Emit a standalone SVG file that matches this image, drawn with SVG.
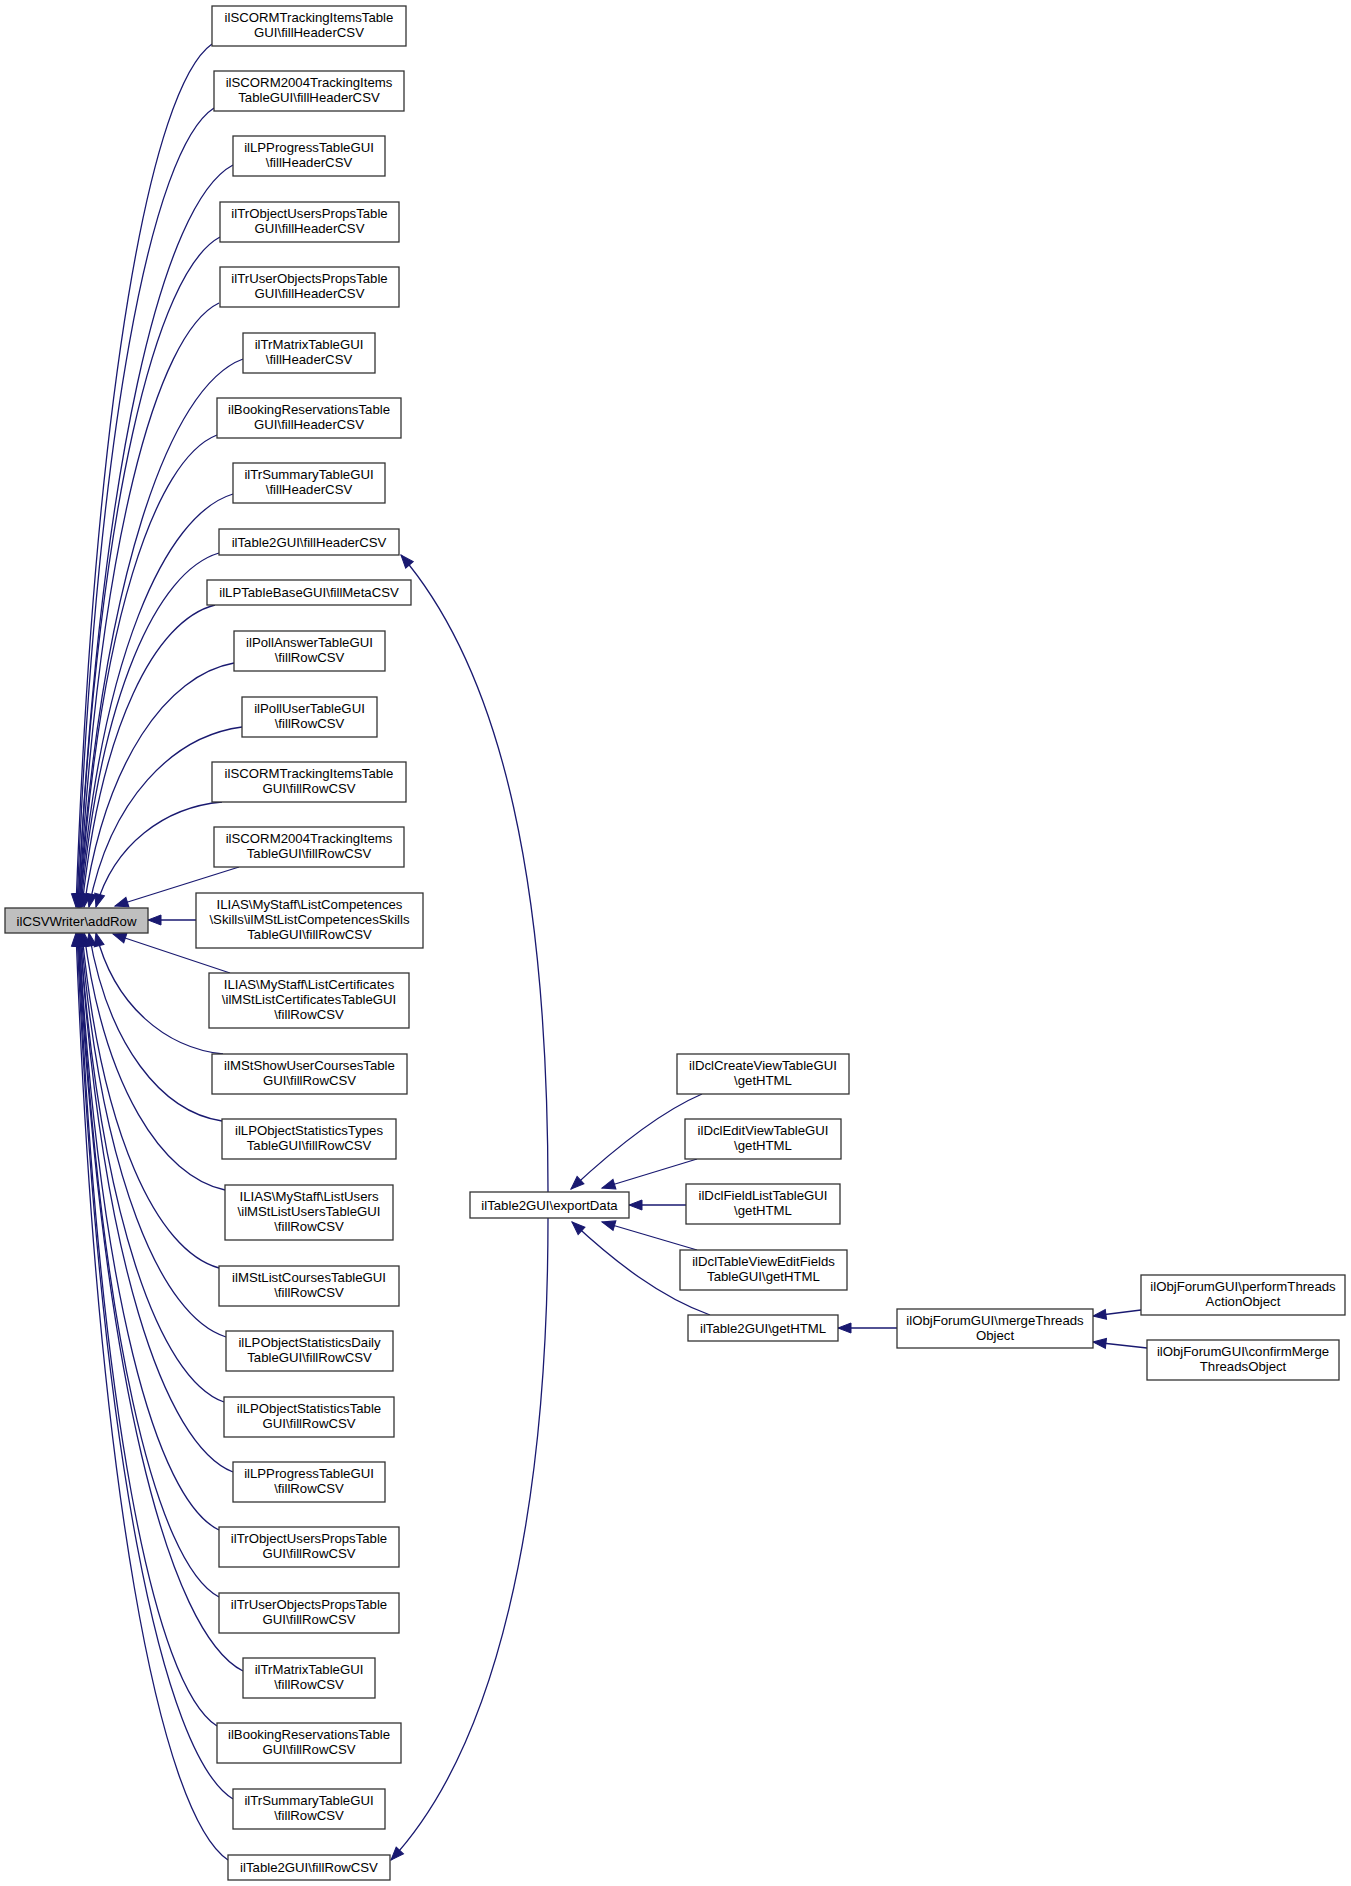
<svg xmlns="http://www.w3.org/2000/svg" width="1351" height="1886" viewBox="0 0 1351 1886">
<style>
.n rect{fill:#ffffff;stroke:#333333;stroke-width:1.3}
.n.root rect{fill:#bfbfbf}
text{font-family:"Liberation Sans",Arial,Helvetica,sans-serif;font-size:13.2px;text-anchor:middle;fill:#000000}
.e path{fill:none;stroke:#191970;stroke-width:1.3;marker-end:url(#ah)}
</style>
<defs>
<marker id="ah" markerWidth="14" markerHeight="12" refX="13" refY="5" orient="auto" markerUnits="userSpaceOnUse" overflow="visible">
<path d="M0,0 L13,5 L0,10 z" fill="#191970" stroke="#191970" stroke-width="1"/>
</marker>
</defs>
<rect x="0" y="0" width="1351" height="1886" fill="#ffffff"/>
<g id="connectors" class="e">
<path d="M212,44 C151,87 95,389 76,907"/>
<path d="M214,108 C152,148 96,428 77,907"/>
<path d="M233,165 C163,202 100,462 78,907"/>
<path d="M220,237 C156,271 98,505 78,907"/>
<path d="M219,303 C156,333 99,545 79,907"/>
<path d="M243,359 C169,386 102,578 79,907"/>
<path d="M217,435 C155,459 99,624 80,907"/>
<path d="M233,494 C164,515 101,659 80,907"/>
<path d="M219,553 C157,571 100,695 81,907"/>
<path d="M215,605 C155,620 101,726 82,907"/>
<path d="M234,663 C167,675 105,761 84,907"/>
<path d="M242,727 C173,736 110,799 89,907"/>
<path d="M222,802 C165,807 114,844 96,907"/>
<path d="M239,867 L115,906"/>
<path d="M196,920 L148,920"/>
<path d="M230,973 L113,934"/>
<path d="M223,1054 C166,1048 114,1006 96,933"/>
<path d="M222,1121 C162,1112 108,1046 89,933"/>
<path d="M225,1190 C162,1177 104,1087 84,933"/>
<path d="M219,1268 C157,1251 101,1134 82,933"/>
<path d="M226,1337 C161,1317 101,1175 81,933"/>
<path d="M224,1402 C159,1379 100,1214 80,933"/>
<path d="M233,1472 C164,1445 101,1256 80,933"/>
<path d="M219,1530 C156,1500 99,1291 79,933"/>
<path d="M219,1597 C156,1564 99,1331 79,933"/>
<path d="M243,1671 C169,1634 101,1376 78,933"/>
<path d="M217,1726 C154,1686 98,1409 78,933"/>
<path d="M233,1799 C163,1756 99,1453 77,933"/>
<path d="M228,1860 C160,1814 97,1489 76,933"/>
<path d="M548,1192 C548,892 505,677 401,555"/>
<path d="M548,1218 C548,1518 496,1747 391,1860"/>
<path d="M702,1094 C660,1112 615,1148 571,1189"/>
<path d="M697,1159 L602,1188"/>
<path d="M686,1205 L629,1205"/>
<path d="M697,1250 L602,1222"/>
<path d="M710,1315 C660,1297 615,1262 572,1222"/>
<path d="M897,1328 L838,1328"/>
<path d="M1141,1310 L1093,1316"/>
<path d="M1147,1348 L1093,1342"/>
</g>
<g id="addRow" class="n root"><rect x="5" y="908" width="143" height="25"/><text x="76.5" y="925.5">ilCSVWriter\addRow</text></g>
<g id="n1" class="n"><rect x="212" y="6" width="194" height="40"/><text x="309" y="22">ilSCORMTrackingItemsTable</text><text x="309" y="37">GUI\fillHeaderCSV</text></g>
<g id="n2" class="n"><rect x="214" y="71" width="190" height="40"/><text x="309" y="87">ilSCORM2004TrackingItems</text><text x="309" y="102">TableGUI\fillHeaderCSV</text></g>
<g id="n3" class="n"><rect x="233" y="136" width="152" height="40"/><text x="309" y="152">ilLPProgressTableGUI</text><text x="309" y="167">\fillHeaderCSV</text></g>
<g id="n4" class="n"><rect x="220" y="202" width="179" height="40"/><text x="309.5" y="218">ilTrObjectUsersPropsTable</text><text x="309.5" y="233">GUI\fillHeaderCSV</text></g>
<g id="n5" class="n"><rect x="220" y="267" width="179" height="40"/><text x="309.5" y="283">ilTrUserObjectsPropsTable</text><text x="309.5" y="298">GUI\fillHeaderCSV</text></g>
<g id="n6" class="n"><rect x="243" y="333" width="132" height="40"/><text x="309" y="349">ilTrMatrixTableGUI</text><text x="309" y="364">\fillHeaderCSV</text></g>
<g id="n7" class="n"><rect x="217" y="398" width="184" height="40"/><text x="309" y="414">ilBookingReservationsTable</text><text x="309" y="429">GUI\fillHeaderCSV</text></g>
<g id="n8" class="n"><rect x="233" y="463" width="152" height="40"/><text x="309" y="479">ilTrSummaryTableGUI</text><text x="309" y="494">\fillHeaderCSV</text></g>
<g id="n9" class="n"><rect x="219" y="529" width="180" height="26"/><text x="309" y="546.5">ilTable2GUI\fillHeaderCSV</text></g>
<g id="n10" class="n"><rect x="207" y="580" width="204" height="25"/><text x="309" y="597">ilLPTableBaseGUI\fillMetaCSV</text></g>
<g id="n11" class="n"><rect x="234" y="631" width="151" height="40"/><text x="309.5" y="647">ilPollAnswerTableGUI</text><text x="309.5" y="662">\fillRowCSV</text></g>
<g id="n12" class="n"><rect x="242" y="697" width="135" height="40"/><text x="309.5" y="713">ilPollUserTableGUI</text><text x="309.5" y="728">\fillRowCSV</text></g>
<g id="n13" class="n"><rect x="212" y="762" width="194" height="40"/><text x="309" y="778">ilSCORMTrackingItemsTable</text><text x="309" y="793">GUI\fillRowCSV</text></g>
<g id="n14" class="n"><rect x="214" y="827" width="190" height="40"/><text x="309" y="843">ilSCORM2004TrackingItems</text><text x="309" y="858">TableGUI\fillRowCSV</text></g>
<g id="n15" class="n"><rect x="196" y="893" width="227" height="55"/><text x="309.5" y="908.5">ILIAS\MyStaff\ListCompetences</text><text x="309.5" y="923.5">\Skills\ilMStListCompetencesSkills</text><text x="309.5" y="938.5">TableGUI\fillRowCSV</text></g>
<g id="n16" class="n"><rect x="209" y="973" width="200" height="55"/><text x="309" y="988.5">ILIAS\MyStaff\ListCertificates</text><text x="309" y="1003.5">\ilMStListCertificatesTableGUI</text><text x="309" y="1018.5">\fillRowCSV</text></g>
<g id="n17" class="n"><rect x="212" y="1054" width="195" height="40"/><text x="309.5" y="1070">ilMStShowUserCoursesTable</text><text x="309.5" y="1085">GUI\fillRowCSV</text></g>
<g id="n18" class="n"><rect x="222" y="1119" width="174" height="40"/><text x="309" y="1135">ilLPObjectStatisticsTypes</text><text x="309" y="1150">TableGUI\fillRowCSV</text></g>
<g id="n19" class="n"><rect x="225" y="1185" width="168" height="55"/><text x="309" y="1200.5">ILIAS\MyStaff\ListUsers</text><text x="309" y="1215.5">\ilMStListUsersTableGUI</text><text x="309" y="1230.5">\fillRowCSV</text></g>
<g id="n20" class="n"><rect x="219" y="1266" width="180" height="40"/><text x="309" y="1282">ilMStListCoursesTableGUI</text><text x="309" y="1297">\fillRowCSV</text></g>
<g id="n21" class="n"><rect x="226" y="1331" width="167" height="40"/><text x="309.5" y="1347">ilLPObjectStatisticsDaily</text><text x="309.5" y="1362">TableGUI\fillRowCSV</text></g>
<g id="n22" class="n"><rect x="224" y="1397" width="170" height="40"/><text x="309" y="1413">ilLPObjectStatisticsTable</text><text x="309" y="1428">GUI\fillRowCSV</text></g>
<g id="n23" class="n"><rect x="233" y="1462" width="152" height="40"/><text x="309" y="1478">ilLPProgressTableGUI</text><text x="309" y="1493">\fillRowCSV</text></g>
<g id="n24" class="n"><rect x="219" y="1527" width="180" height="40"/><text x="309" y="1543">ilTrObjectUsersPropsTable</text><text x="309" y="1558">GUI\fillRowCSV</text></g>
<g id="n25" class="n"><rect x="219" y="1593" width="180" height="40"/><text x="309" y="1609">ilTrUserObjectsPropsTable</text><text x="309" y="1624">GUI\fillRowCSV</text></g>
<g id="n26" class="n"><rect x="243" y="1658" width="132" height="40"/><text x="309" y="1674">ilTrMatrixTableGUI</text><text x="309" y="1689">\fillRowCSV</text></g>
<g id="n27" class="n"><rect x="217" y="1723" width="184" height="40"/><text x="309" y="1739">ilBookingReservationsTable</text><text x="309" y="1754">GUI\fillRowCSV</text></g>
<g id="n28" class="n"><rect x="233" y="1789" width="152" height="40"/><text x="309" y="1805">ilTrSummaryTableGUI</text><text x="309" y="1820">\fillRowCSV</text></g>
<g id="n29" class="n"><rect x="228" y="1855" width="162" height="25"/><text x="309" y="1872">ilTable2GUI\fillRowCSV</text></g>
<g id="exportData" class="n"><rect x="470" y="1192" width="159" height="26"/><text x="549.5" y="1209.5">ilTable2GUI\exportData</text></g>
<g id="m1" class="n"><rect x="677" y="1054" width="172" height="40"/><text x="763" y="1070">ilDclCreateViewTableGUI</text><text x="763" y="1085">\getHTML</text></g>
<g id="m2" class="n"><rect x="685" y="1119" width="156" height="40"/><text x="763" y="1135">ilDclEditViewTableGUI</text><text x="763" y="1150">\getHTML</text></g>
<g id="m3" class="n"><rect x="686" y="1184" width="154" height="40"/><text x="763" y="1200">ilDclFieldListTableGUI</text><text x="763" y="1215">\getHTML</text></g>
<g id="m4" class="n"><rect x="680" y="1250" width="167" height="40"/><text x="763.5" y="1266">ilDclTableViewEditFields</text><text x="763.5" y="1281">TableGUI\getHTML</text></g>
<g id="m5" class="n"><rect x="688" y="1315" width="150" height="26"/><text x="763" y="1332.5">ilTable2GUI\getHTML</text></g>
<g id="r1" class="n"><rect x="897" y="1309" width="196" height="39"/><text x="995" y="1325">ilObjForumGUI\mergeThreads</text><text x="995" y="1340">Object</text></g>
<g id="r2" class="n"><rect x="1141" y="1275" width="204" height="40"/><text x="1243" y="1291">ilObjForumGUI\performThreads</text><text x="1243" y="1306">ActionObject</text></g>
<g id="r3" class="n"><rect x="1147" y="1340" width="192" height="40"/><text x="1243" y="1356">ilObjForumGUI\confirmMerge</text><text x="1243" y="1371">ThreadsObject</text></g>
</svg>
